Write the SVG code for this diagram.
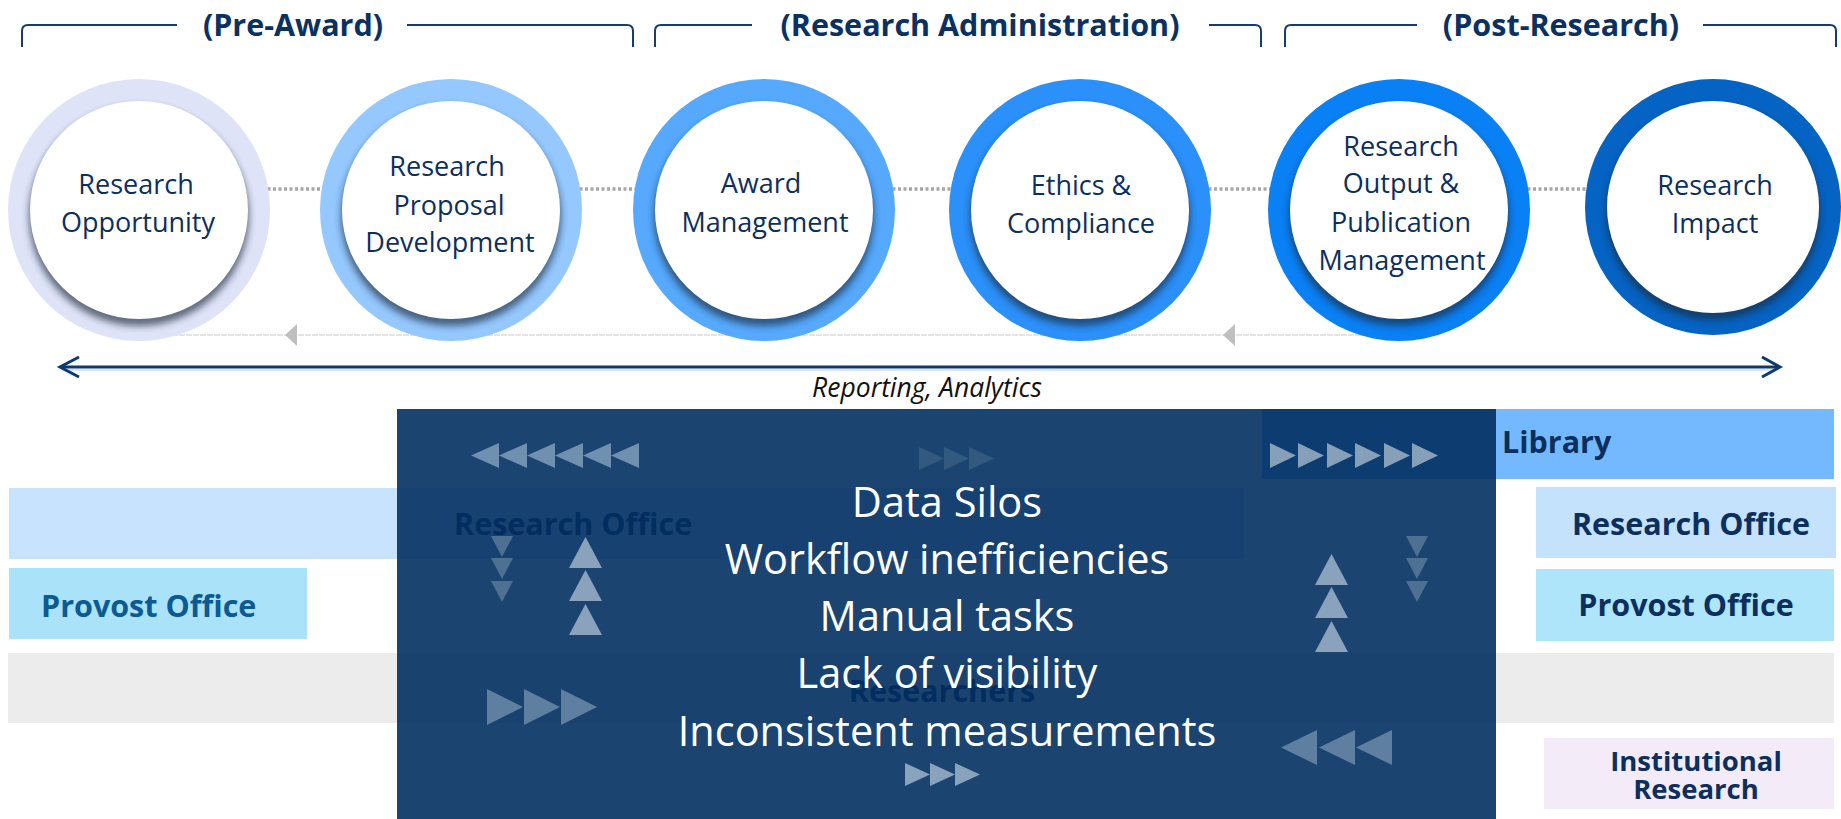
<svg xmlns="http://www.w3.org/2000/svg" width="1841" height="819" viewBox="0 0 1841 819">
<style>
.hdr{font-family:"Open Sans","Liberation Sans",sans-serif;font-weight:700;font-size:30.5px;fill:#0b3162;text-anchor:middle}
.brk{fill:none;stroke:#173d6b;stroke-width:2}
.lbl{font-family:"Open Sans","Liberation Sans",sans-serif;font-size:27px;fill:#0c2f5d;text-anchor:middle}
.white{fill:#fff}
.dot{stroke:#a6a6a6;stroke-width:3.5;stroke-dasharray:3 2.5;fill:none}
.bar{font-family:"Open Sans","Liberation Sans",sans-serif;font-weight:700;font-size:30.5px;fill:#0c2f5d}
.ir{font-size:27.5px}
.ovt{font-family:"Open Sans","Liberation Sans",sans-serif;font-size:41.5px;fill:#fff;text-anchor:middle}
</style>
<defs>
<filter id="sh" x="-30%" y="-30%" width="160%" height="160%"><feGaussianBlur stdDeviation="3.5"/></filter>
<path id="tL" d="M0,12.5 L28,0 L28,25 Z"/>
<path id="tR" d="M0,0 L26,12.5 L0,25 Z"/>
<path id="tRs" d="M0,0 L25,11.5 L0,23 Z"/>
<path id="tD" d="M0,0 L22,0 L11,21 Z"/>
<path id="tU" d="M16.5,0 L33,31 L0,31 Z"/>
<path id="tRb" d="M0,0 L36,18 L0,36 Z"/>
<path id="tLb" d="M0,17.5 L36,0 L36,35 Z"/>
</defs>
<rect width="1841" height="819" fill="#fff"/>

<!-- phase brackets -->
<g id="phase-pre-award">
<path class="brk" d="M22,47 L22,31 Q22,25 28,25 L177,25 M407,25 L627,25 Q633,25 633,31 L633,47"/>
<text class="hdr" x="293" y="36">(Pre-Award)</text>
</g>
<g id="phase-research-admin">
<path class="brk" d="M655,47 L655,31 Q655,25 661,25 L752,25 M1209,25 L1255,25 Q1261,25 1261,31 L1261,47"/>
<text class="hdr" x="980" y="36">(Research Administration)</text>
</g>
<g id="phase-post-research">
<path class="brk" d="M1285,47 L1285,31 Q1285,25 1291,25 L1417,25 M1703,25 L1830,25 Q1836,25 1836,31 L1836,47"/>
<text class="hdr" x="1561" y="36">(Post-Research)</text>
</g>

<!-- connectors -->
<g id="connectors">
<line class="dot" x1="262" y1="189" x2="328" y2="189"/>
<line class="dot" x1="574" y1="189" x2="641" y2="189"/>
<line class="dot" x1="887" y1="189" x2="957" y2="189"/>
<line class="dot" x1="1203" y1="189" x2="1276" y2="189"/>
<line class="dot" x1="1522" y1="189" x2="1593" y2="189"/>
<line x1="172" y1="335" x2="1390" y2="335" stroke="#dcdcdc" stroke-width="1.5" stroke-dasharray="6 1"/>
<polygon points="285,335 297,324 297,346" fill="#bfbfbf"/>
<polygon points="1223,335 1235,324 1235,346" fill="#bfbfbf"/>
<line x1="61" y1="367" x2="1778" y2="367" stroke="#0d3a6e" stroke-width="3"/>
<line x1="64" y1="370" x2="1775" y2="370" stroke="#b4cbe3" stroke-width="1.2"/>
<polyline points="79,357 60,367 79,377" fill="none" stroke="#0d3a6e" stroke-width="3"/>
<polyline points="1762,357 1780,367 1762,377" fill="none" stroke="#0d3a6e" stroke-width="3"/>
<text x="927" y="397" font-family="Open Sans, Liberation Sans, sans-serif" font-style="italic" font-size="26.5" fill="#111" text-anchor="middle">Reporting, Analytics</text>
</g>

<!-- circles -->
<g id="node-research-opportunity" transform="translate(139,210)">
<circle r="131" fill="#dee3f8"/>
<circle cy="6" r="110" fill="#1e2b3c" opacity="0.65" filter="url(#sh)"/>
<circle r="109" class="white"/>
<text class="lbl" x="-3" y="-16">Research</text>
<text class="lbl" x="-1" y="22">Opportunity</text>
</g>
<g id="node-research-proposal" transform="translate(451,210)">
<circle r="131" fill="#94c8fe"/>
<circle cy="6" r="110" fill="#1e2b3c" opacity="0.65" filter="url(#sh)"/>
<circle r="109" class="white"/>
<text class="lbl" x="-4" y="-34">Research</text>
<text class="lbl" x="-2" y="5">Proposal</text>
<text class="lbl" x="-1" y="42">Development</text>
</g>
<g id="node-award-management" transform="translate(764,210)">
<circle r="131" fill="#56a9fd"/>
<circle cy="6" r="110" fill="#1e2b3c" opacity="0.65" filter="url(#sh)"/>
<circle r="109" class="white"/>
<text class="lbl" x="-3" y="-17">Award</text>
<text class="lbl" x="1" y="22">Management</text>
</g>
<g id="node-ethics-compliance" transform="translate(1080,210)">
<circle r="131" fill="#2b90fa"/>
<circle cy="6" r="110" fill="#1e2b3c" opacity="0.65" filter="url(#sh)"/>
<circle r="109" class="white"/>
<text class="lbl" x="1" y="-15">Ethics &amp;</text>
<text class="lbl" x="1" y="23">Compliance</text>
</g>
<g id="node-research-output" transform="translate(1399,210)">
<circle r="131" fill="#0a80f5"/>
<circle cy="6" r="110" fill="#1e2b3c" opacity="0.65" filter="url(#sh)"/>
<circle r="109" class="white"/>
<text class="lbl" x="2" y="-54">Research</text>
<text class="lbl" x="2" y="-17">Output &amp;</text>
<text class="lbl" x="2" y="22">Publication</text>
<text class="lbl" x="3" y="60">Management</text>
</g>
<g id="node-research-impact" transform="translate(1713,207)">
<circle r="128" fill="#0563c3"/>
<circle cy="6" r="107" fill="#1e2b3c" opacity="0.65" filter="url(#sh)"/>
<circle r="106" class="white"/>
<text class="lbl" x="2" y="-12">Research</text>
<text class="lbl" x="2" y="26">Impact</text>
</g>

<!-- stakeholder bars -->
<g id="node-library">
<rect x="1262" y="409" width="572" height="70" fill="#74b9fd"/>
<text class="bar" x="1502" y="453">Library</text>
</g>
<g id="node-research-office-bar">
<rect x="9" y="488" width="1235" height="71" fill="#c7e3fd"/>
<text class="bar" x="454" y="535">Research Office</text>
</g>
<g id="node-provost-office-left">
<rect x="9" y="568" width="298" height="71" fill="#aae3f9"/>
<text class="bar" x="41" y="617" style="fill:#0c5a94">Provost Office</text>
</g>
<g id="node-researchers">
<rect x="8" y="653" width="1826" height="70" fill="#ececec"/>
<text class="bar" x="942" y="702" text-anchor="middle">Researchers</text>
</g>
<g id="node-research-office-right">
<rect x="1536" y="487" width="300" height="71" fill="#c5e2fd"/>
<text class="bar" x="1691" y="535" text-anchor="middle">Research Office</text>
</g>
<g id="node-provost-office-right">
<rect x="1536" y="569" width="298" height="72" fill="#aee5fa"/>
<text class="bar" x="1686" y="616" text-anchor="middle">Provost Office</text>
</g>
<g id="node-institutional-research">
<rect x="1544" y="738" width="290" height="71" fill="#f3ebf7"/>
<text class="bar ir" x="1696" y="771" text-anchor="middle">Institutional</text>
<text class="bar ir" x="1696" y="799" text-anchor="middle">Research</text>
</g>

<!-- overlay -->
<g id="node-challenges">
<rect x="397" y="409" width="1099" height="410" fill="#002d5f" opacity="0.89"/>
<g fill="#7090b0">
<use href="#tL" x="471" y="443"/><use href="#tL" x="499" y="443"/><use href="#tL" x="527" y="443"/><use href="#tL" x="555" y="443"/><use href="#tL" x="583" y="443"/><use href="#tL" x="611" y="443"/>
</g>
<g fill="#33597f">
<use href="#tRs" x="919" y="447"/><use href="#tRs" x="944" y="447"/><use href="#tRs" x="969" y="447"/>
</g>
<g fill="#86a0ba">
<use href="#tR" x="1270" y="443"/><use href="#tR" x="1298" y="443"/><use href="#tR" x="1327" y="443"/><use href="#tR" x="1355" y="443"/><use href="#tR" x="1384" y="443"/><use href="#tR" x="1412" y="443"/>
</g>
<g fill="#4e7093">
<use href="#tD" x="491" y="536"/><use href="#tD" x="491" y="558"/><use href="#tD" x="491" y="581"/>
<use href="#tD" x="1406" y="536"/><use href="#tD" x="1406" y="558"/><use href="#tD" x="1406" y="581"/>
</g>
<g fill="#8aa2bb">
<use href="#tU" x="569" y="537"/><use href="#tU" x="569" y="570"/><use href="#tU" x="569" y="604"/>
<use href="#tU" x="1315" y="554"/><use href="#tU" x="1315" y="587"/><use href="#tU" x="1315" y="621"/>
</g>
<g fill="#5e7fa0">
<use href="#tRb" x="487" y="689"/><use href="#tRb" x="524" y="689"/><use href="#tRb" x="561" y="689"/>
<use href="#tLb" x="1281" y="730"/><use href="#tLb" x="1319" y="730"/><use href="#tLb" x="1356" y="730"/>
</g>
<g fill="#8aa3bd">
<use href="#tRs" x="905" y="763"/><use href="#tRs" x="930" y="763"/><use href="#tRs" x="955" y="763"/>
</g>
<text class="ovt" x="947" y="517">Data Silos</text>
<text class="ovt" x="947" y="574">Workflow inefficiencies</text>
<text class="ovt" x="947" y="631">Manual tasks</text>
<text class="ovt" x="947" y="688">Lack of visibility</text>
<text class="ovt" x="947" y="746">Inconsistent measurements</text>
</g>
</svg>
